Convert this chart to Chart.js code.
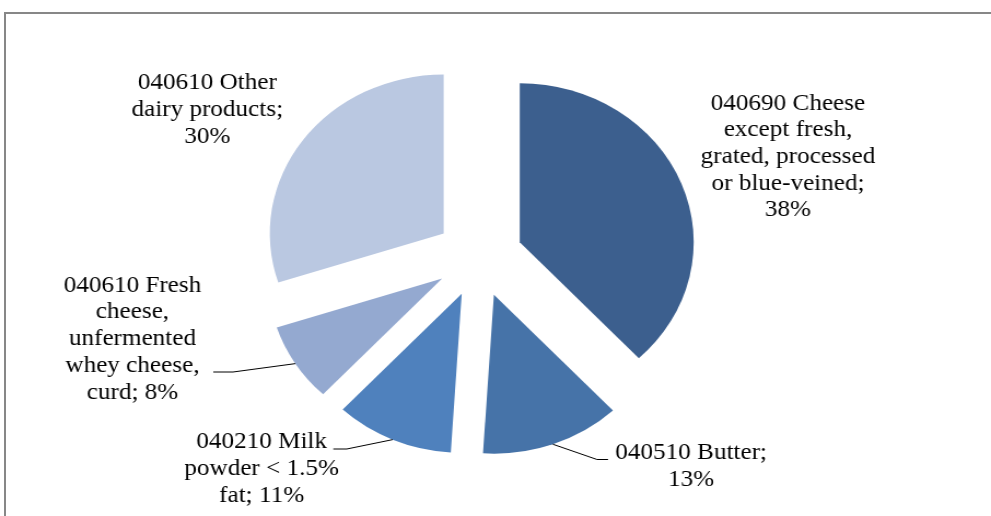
<!DOCTYPE html>
<html>
<head>
<meta charset="utf-8">
<script src="https://cdn.jsdelivr.net/npm/chart.js@4/dist/chart.umd.min.js"></script>
<style>
  html, body { margin: 0; padding: 0; background: #fff; overflow: hidden; }
  body { width: 991px; height: 516px; position: relative; }
  /* chart-area border, only top and left edges are in view */
  #frame { position: absolute; left: 4px; top: 12px; width: 1100px; height: 600px;
           border-left: 2px solid #878787; border-top: 2px solid #878787; }
  /* the whole chart is drawn slightly wide */
  #wrap { position: absolute; left: 0; top: 0; width: 906px; height: 516px;
          transform: scaleX(1.0938); transform-origin: 0 0; }
</style>
</head>
<body>
<div id="frame"></div>
<div id="wrap"><canvas id="pie"></canvas></div>
<script>
const categories = [
  '040690 Cheese except fresh, grated, processed or blue-veined',
  '040510 Butter',
  '040210 Milk powder < 1.5% fat',
  '040610 Fresh cheese, unfermented whey cheese, curd',
  '040610 Other dairy products'
];
const shares = [38, 13, 11, 8, 30];
// wrapped label text, {v} is replaced with the share
const labelLines = [
  ['040690 Cheese', 'except fresh,', 'grated, processed', 'or blue-veined;', '{v}%'],
  ['040510 Butter;', '{v}%'],
  ['040210 Milk', 'powder < 1.5%', 'fat; {v}%'],
  ['040610 Fresh', 'cheese,', 'unfermented', 'whey cheese,', 'curd; {v}%'],
  ['040610 Other', 'dairy products;', '{v}%']
];
const sliceColors = ['#3c5f8e', '#4673a8', '#4f81bd', '#94a9d0', '#bac8e1'];

const EXPLODE = 40;

// pull every slice out from the centre along its middle angle
const explodedSlices = {
  id: 'explodedSlices',
  beforeDatasetDraw(chart, args) {
    const ctx = chart.ctx;
    args.meta.data.forEach(arc => {
      const mid = (arc.startAngle + arc.endAngle) / 2;
      ctx.save();
      ctx.translate(Math.cos(mid) * EXPLODE, Math.sin(mid) * EXPLODE);
      arc.draw(ctx);
      ctx.restore();
    });
    return false;
  }
};

// text labels with optional leader lines to the slice edge
const sliceLabels = {
  id: 'sliceLabels',
  afterDatasetsDraw(chart, args, opts) {
    const ctx = chart.ctx;
    const arcs = chart.getDatasetMeta(0).data;
    ctx.save();
    ctx.font = opts.font;
    ctx.fillStyle = '#000';
    ctx.textAlign = 'center';
    ctx.textBaseline = 'alphabetic';
    opts.spots.forEach((spot, i) => {
      labelLines[i].forEach((line, k) => {
        ctx.fillText(line.replace('{v}', shares[i]), spot.x, spot.y + k * opts.lineHeight);
      });
      if (!spot.leader) return;
      const arc = arcs[i];
      const mid = (arc.startAngle + arc.endAngle) / 2;
      const r = arc.outerRadius + EXPLODE;
      ctx.beginPath();
      ctx.moveTo(spot.leader[0][0], spot.leader[0][1]);
      ctx.lineTo(spot.leader[1][0], spot.leader[1][1]);
      ctx.lineTo(arc.x + Math.cos(mid) * r, arc.y + Math.sin(mid) * r);
      ctx.strokeStyle = '#000';
      ctx.lineWidth = 1;
      ctx.stroke();
    });
    ctx.restore();
  }
};

new Chart(document.getElementById('pie'), {
  type: 'pie',
  data: {
    labels: categories,
    datasets: [{
      data: shares,
      backgroundColor: sliceColors,
      borderWidth: 0
    }]
  },
  options: {
    responsive: true,
    maintainAspectRatio: false,
    animation: false,
    layout: { padding: { left: 279, right: 309, top: 98, bottom: 100 } },
    plugins: {
      legend: { display: false },
      tooltip: { enabled: false },
      sliceLabels: {
        font: '23px "Liberation Serif", "Times New Roman", serif',
        lineHeight: 26.7,
        spots: [
          { x: 720.4, y: 109.5 },
          { x: 631.9, y: 459.3, leader: [[555.9, 459.5], [545.8, 459.5]] },
          { x: 239.2, y: 448.3, leader: [[304.7, 449], [317, 449]] },
          { x: 121.1, y: 291.7, leader: [[195, 372], [213, 372]] },
          { x: 189.5, y: 89.3 }
        ]
      }
    }
  },
  plugins: [explodedSlices, sliceLabels]
});
</script>
</body>
</html>
